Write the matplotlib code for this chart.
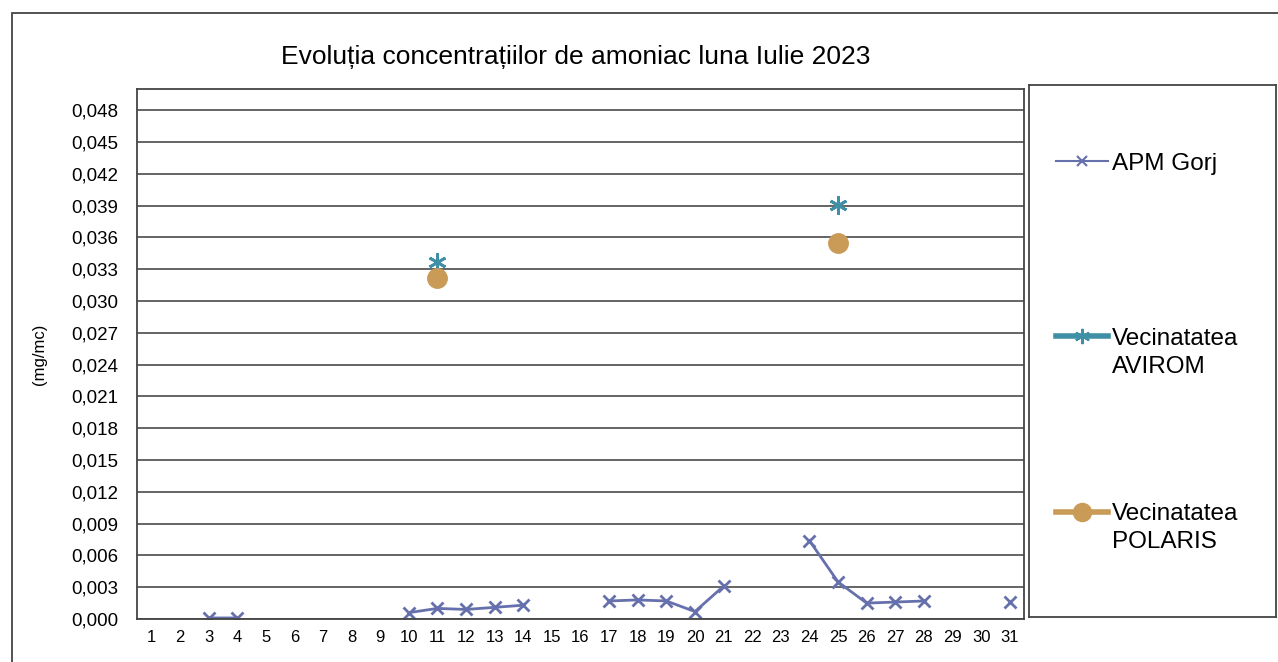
import numpy as np
import matplotlib
matplotlib.use("Agg")
import matplotlib.pyplot as plt
from matplotlib.patches import Rectangle
from matplotlib.ticker import FuncFormatter

plt.rcParams['font.family'] = ['Liberation Sans', 'DejaVu Sans']

days = list(range(1, 32))
nan = np.nan
# APM Gorj, mg/mc (gaps = no measurement)
apm_gorj = [nan, nan, 0.0001, 0.0001, nan, nan, nan, nan, nan,
            0.0006, 0.0010, 0.0009, 0.0011, 0.0013, nan, nan,
            0.0017, 0.0018, 0.0017, 0.0007, 0.0031, nan, nan,
            0.0074, 0.0035, 0.0015, 0.0016, 0.0017, nan, nan, 0.0016]
avirom_days = [11, 25]
avirom = [0.0337, 0.0391]
polaris_days = [11, 25]
polaris = [0.0322, 0.0355]

title = "Evoluția concentrațiilor de amoniac luna Iulie 2023"
labels = [("APM Gorj", ""), ("Vecinatatea", "AVIROM"), ("Vecinatatea", "POLARIS")]

c_apm = "#6670ad"
c_avirom = "#3f8fa6"
c_polaris = "#c99b57"

W, H = 1278, 662
fig = plt.figure(figsize=(W / 100, H / 100), dpi=100)

# outer chart frame (cut on the right and bottom)
fig.patches.append(Rectangle((12 / W, -0.1), 1.2, 1.1 - 13 / H,
                             transform=fig.transFigure, fill=False,
                             edgecolor="#444444", linewidth=1.3))

ax = fig.add_axes([137 / W, 43 / H, 887 / W, 530 / H])
l1, = ax.plot(days, apm_gorj, color=c_apm, lw=2, marker="x", ms=8, mew=2)
l2, = ax.plot(avirom_days, avirom, color=c_avirom, lw=3, ls="none",
              marker=(6, 2, 0), ms=13, mew=2)
l3, = ax.plot(polaris_days, polaris, color=c_polaris, lw=3, ls="none",
              marker="o", ms=14)

ax.set_xlim(0.5, 31.5)
ax.set_ylim(0, 0.050)
ax.set_xticks(days)
ax.set_yticks(np.arange(0, 0.0481, 0.003))
ax.yaxis.set_major_formatter(FuncFormatter(lambda v, p: f"{v:.3f}".replace(".", ",")))
ax.tick_params(length=0)
ax.tick_params(axis="y", labelsize=13.5, pad=13.5)
ax.tick_params(axis="x", labelsize=12, pad=8)
ax.grid(axis="y", color="#4a4a4a", lw=1.2)
ax.set_axisbelow(True)
for s in ax.spines.values():
    s.set_color("#444444")
    s.set_linewidth(1.3)

fig.text(576 / W, 1 - 57 / H, title, ha="center", va="center", fontsize=19)
fig.text(40 / W, 1 - 354 / H, "(mg/mc)", rotation=90, ha="center",
         va="center", fontsize=12)

# legend box
lax = fig.add_axes([1029 / W, 45 / H, 247 / W, 532 / H])
lax.set_xticks([])
lax.set_yticks([])
for s in lax.spines.values():
    s.set_color("#444444")
    s.set_linewidth(1.3)
h1 = plt.Line2D([], [], color=c_apm, lw=1.5, marker="x", ms=7, mew=1.5)
h2 = plt.Line2D([], [], color=c_avirom, lw=4, marker=(6, 2, 0), ms=11, mew=1.5)
h3 = plt.Line2D([], [], color=c_polaris, lw=4, marker="o", ms=13)
leg = lax.legend([h1, h2, h3], [a for a, b in labels], loc="upper left",
                 frameon=False, fontsize=17.5, labelspacing=6.3,
                 handlelength=2.15, handletextpad=0.15, borderaxespad=0.0,
                 borderpad=0.0, bbox_to_anchor=(27 / 247, 0.8725))

# second line of the two-line legend labels, under the first
fig.canvas.draw()
for t, (first, second) in zip(leg.get_texts(), labels):
    if not second:
        continue
    x, y = t.get_transform().transform(t.get_position())
    fig.text(x / W, (y - 28) / H, second, ha="left", va="baseline",
             fontsize=17.5)

fig.savefig("out.png", dpi=100)
